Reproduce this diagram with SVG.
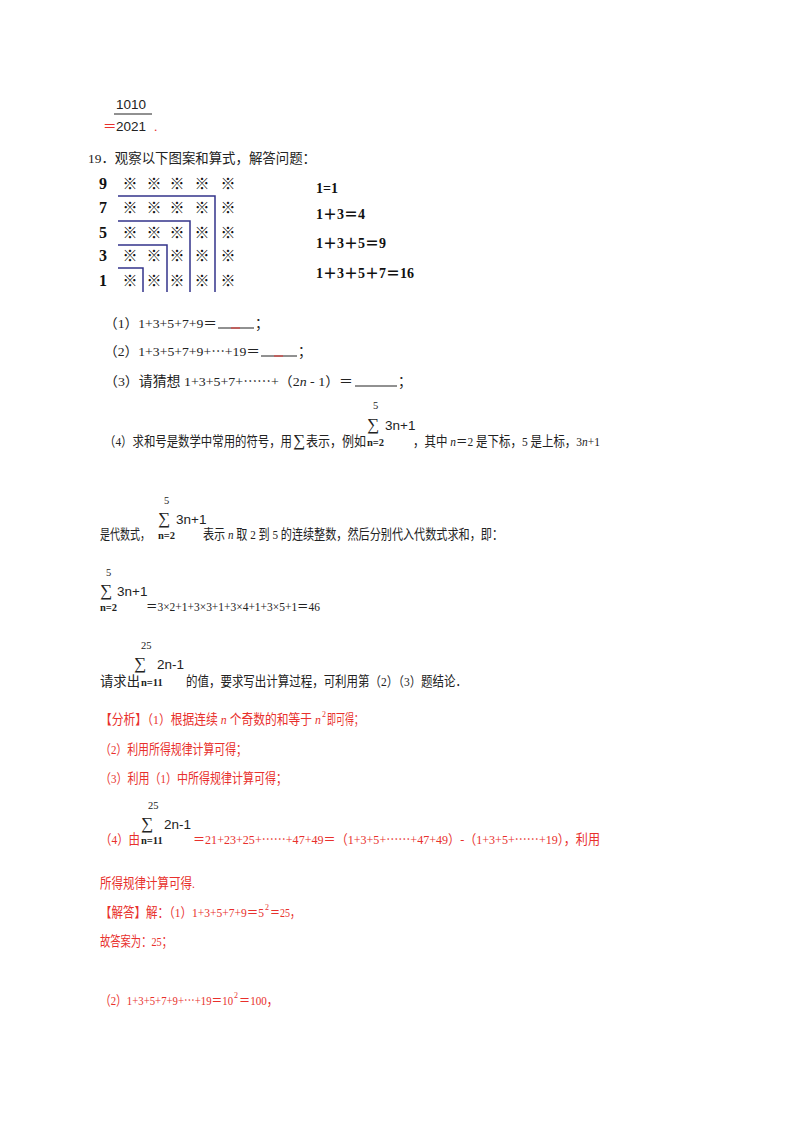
<svg xmlns="http://www.w3.org/2000/svg" width="800" height="1132" viewBox="0 0 800 1132">
<style>
text{font-family:"Liberation Serif","Noto Sans CJK SC",serif;font-size:13.5px;fill:#222}
.r{fill:#e8302c}
.s{font-family:"Liberation Sans","Noto Sans CJK SC",sans-serif}
.st{font-family:"Noto Sans CJK SC",sans-serif;font-size:15px;font-weight:bold;text-anchor:middle;fill:#111}
.num{font-size:16px;font-weight:bold;text-anchor:middle;fill:#111}
.eq{font-size:14px;font-weight:bold;fill:#111}
.sm{font-size:10.5px}
.sb{font-size:10.5px;font-weight:bold}
.sig{font-size:17px}
.sup{font-size:8px}
.gl{stroke:#33338a;stroke-width:1.5;fill:none}
.bl{stroke:#222;stroke-width:1}
</style>
<rect width="800" height="1132" fill="#fff"/>
<g id="fraction">
<text class="s" x="116" y="109" font-size="15.5">1010</text>
<line x1="114" y1="114" x2="152" y2="114" class="bl"/>
<text x="103" y="131" class="r" font-size="14">＝</text>
<text class="s" x="116" y="131" font-size="15.5">2021</text>
<text x="154" y="131" class="r">.</text>
</g>
<text x="88" y="163" textLength="228" lengthAdjust="spacingAndGlyphs">19．观察以下图案和算式，解答问题：</text>
<g id="grid">
<text class="num" x="103" y="189">9</text><text class="num" x="103" y="213">7</text><text class="num" x="103" y="238">5</text><text class="num" x="103" y="261">3</text><text class="num" x="103" y="286">1</text>
<g>
<text class="st" x="130" y="189">※</text><text class="st" x="154" y="189">※</text><text class="st" x="177" y="189">※</text><text class="st" x="202" y="189">※</text><text class="st" x="228" y="189">※</text>
<text class="st" x="130" y="213">※</text><text class="st" x="154" y="213">※</text><text class="st" x="177" y="213">※</text><text class="st" x="202" y="213">※</text><text class="st" x="228" y="213">※</text>
<text class="st" x="130" y="238">※</text><text class="st" x="154" y="238">※</text><text class="st" x="177" y="238">※</text><text class="st" x="202" y="238">※</text><text class="st" x="228" y="238">※</text>
<text class="st" x="130" y="261">※</text><text class="st" x="154" y="261">※</text><text class="st" x="177" y="261">※</text><text class="st" x="202" y="261">※</text><text class="st" x="228" y="261">※</text>
<text class="st" x="130" y="286">※</text><text class="st" x="154" y="286">※</text><text class="st" x="177" y="286">※</text><text class="st" x="202" y="286">※</text><text class="st" x="228" y="286">※</text>
</g>
<path class="gl" d="M118 196H215V292M118 221H190V292M118 245H167V292M118 268H143V292"/>
</g>
<g id="equations">
<text class="eq" x="316" y="193">1=1</text>
<text class="eq" x="316" y="219">1＋3＝4</text>
<text class="eq" x="316" y="248">1＋3＋5＝9</text>
<text class="eq" x="316" y="278">1＋3＋5＋7＝16</text>
</g>
<text x="104" y="328" textLength="113" lengthAdjust="spacingAndGlyphs">（1）1+3+5+7+9＝</text>
<line x1="218" y1="328" x2="254" y2="328" class="bl"/>
<line x1="231" y1="328" x2="240" y2="328" stroke="#e8302c"/>
<text x="255" y="328">；</text>
<text x="104" y="356" textLength="156" lengthAdjust="spacingAndGlyphs">（2）1+3+5+7+9+⋯+19＝</text>
<line x1="261" y1="356" x2="297" y2="356" class="bl"/>
<line x1="274" y1="356" x2="283" y2="356" stroke="#e8302c"/>
<text x="298" y="356">；</text>
<text x="104" y="386" textLength="249" lengthAdjust="spacingAndGlyphs">（3）请猜想 1+3+5+7+⋯⋯+（2<tspan font-style="italic">n</tspan> - 1）＝</text>
<line x1="355" y1="386" x2="397" y2="386" class="bl"/>
<text x="398" y="386">；</text>

<text x="104" y="446" textLength="188" lengthAdjust="spacingAndGlyphs">（4）求和号是数学中常用的符号，用</text>
<text x="293" y="446" class="sig">∑</text>
<text x="306" y="446" textLength="60" lengthAdjust="spacingAndGlyphs">表示，例如</text>
<text x="373" y="409" class="sm">5</text><text x="367" y="430" class="sig">∑</text><text class="s" x="385" y="430" font-size="13">3n+1</text><text x="367" y="446" class="sb">n=2</text>
<text x="413" y="446" textLength="187" lengthAdjust="spacingAndGlyphs">，其中 <tspan font-style="italic">n</tspan>＝2 是下标，5 是上标，3<tspan font-style="italic">n</tspan>+1</text>

<text x="100" y="539" textLength="50" lengthAdjust="spacingAndGlyphs">是代数式，</text>
<text x="164" y="504" class="sm">5</text><text x="158" y="524" class="sig">∑</text><text class="s" x="176" y="524" font-size="13">3n+1</text><text x="158" y="539" class="sb">n=2</text>
<text x="203" y="539" textLength="300" lengthAdjust="spacingAndGlyphs">表示 <tspan font-style="italic">n</tspan> 取 2 到 5 的连续整数，然后分别代入代数式求和，即：</text>

<text x="106" y="576" class="sm">5</text><text x="100" y="596" class="sig">∑</text><text class="s" x="117" y="596" font-size="13">3n+1</text><text x="100" y="611" class="sb">n=2</text>
<text x="146" y="611" textLength="174" lengthAdjust="spacingAndGlyphs">＝3×2+1+3×3+1+3×4+1+3×5+1＝46</text>

<text x="141" y="649" class="sm">25</text><text x="134" y="669" class="sig">∑</text><text class="s" x="157" y="669" font-size="13">2n-1</text>
<text x="100" y="686" textLength="40" lengthAdjust="spacingAndGlyphs">请求出</text><text x="141" y="686" class="sb">n=11</text>
<text x="186" y="686" textLength="281" lengthAdjust="spacingAndGlyphs">的值，要求写出计算过程，可利用第（2）（3）题结论．</text>

<g id="answer">
<text class="r" x="100" y="724" textLength="221" lengthAdjust="spacingAndGlyphs">【分析】（1）根据连续 <tspan font-style="italic">n</tspan> 个奇数的和等于 <tspan font-style="italic">n</tspan></text>
<text class="r sup" x="322" y="717">2</text>
<text class="r" x="327" y="724" textLength="36" lengthAdjust="spacingAndGlyphs">即可得；</text>
<text class="r" x="100" y="754" textLength="147" lengthAdjust="spacingAndGlyphs">（2）利用所得规律计算可得；</text>
<text class="r" x="100" y="783" textLength="187" lengthAdjust="spacingAndGlyphs">（3）利用（1）中所得规律计算可得；</text>
<text x="148" y="809" class="sm">25</text><text x="141" y="829" class="sig">∑</text><text class="s" x="164" y="829" font-size="13">2n-1</text>
<text class="r" x="100" y="844" textLength="40" lengthAdjust="spacingAndGlyphs">（4）由</text><text x="141" y="844" class="sb">n=11</text>
<text class="r" x="193" y="844" textLength="407" lengthAdjust="spacingAndGlyphs">＝21+23+25+⋯⋯+47+49＝（1+3+5+⋯⋯+47+49）-（1+3+5+⋯⋯+19），利用</text>
<text class="r" x="100" y="888" textLength="95" lengthAdjust="spacingAndGlyphs">所得规律计算可得.</text>
<text class="r" x="100" y="917" textLength="164" lengthAdjust="spacingAndGlyphs">【解答】解：（1）1+3+5+7+9＝5</text>
<text class="r sup" x="265" y="910">2</text>
<text class="r" x="270" y="917" textLength="30" lengthAdjust="spacingAndGlyphs">＝25，</text>
<text class="r" x="100" y="946" textLength="72" lengthAdjust="spacingAndGlyphs">故答案为：25；</text>
<text class="r" x="100" y="1005" textLength="133" lengthAdjust="spacingAndGlyphs">（2）1+3+5+7+9+⋯+19＝10</text>
<text class="r sup" x="234" y="998">2</text>
<text class="r" x="239" y="1005" textLength="39" lengthAdjust="spacingAndGlyphs">＝100，</text>
</g>
</svg>
